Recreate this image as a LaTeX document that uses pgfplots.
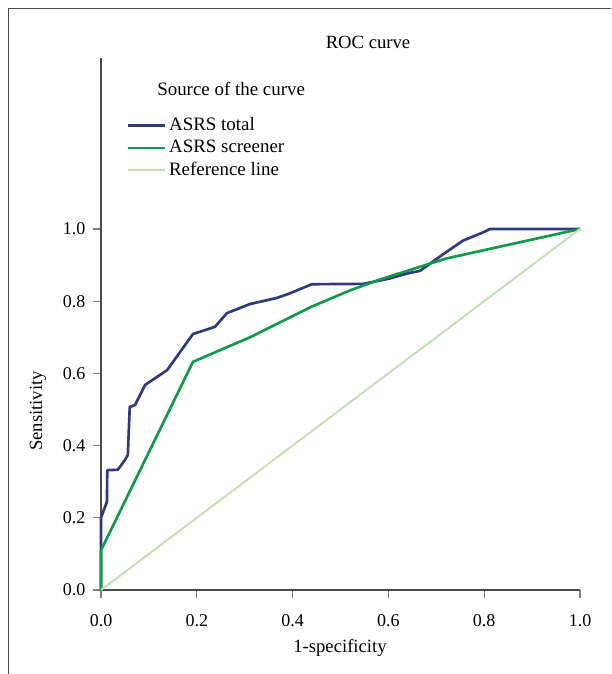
\documentclass[border=0pt]{standalone}
\usepackage{pgfplots}
\pgfplotsset{compat=1.18}
\usepackage{fontspec}
\setmainfont{Liberation Serif}
\definecolor{cblue}{HTML}{2C3A7E}
\definecolor{cgreen}{HTML}{0E9A48}
\definecolor{cref}{HTML}{C2DFAE}
\definecolor{axgray}{HTML}{4A4A4A}
\begin{document}
\fontsize{13.5}{16}\selectfont
\begin{tikzpicture}
\path[use as bounding box] (-75.75pt,-63pt) rectangle (382.5pt,442.5pt);
\begin{scope}[shift={(-75.75pt,442.5pt)}, x=0.75pt, y=-0.75pt]
  \draw[axgray, line width=1.2pt] (8.5,674) -- (8.5,8.5) -- (611,8.5);
  \node[font=\fontsize{14}{16}\selectfont] at (368,42) {ROC curve};
  \node[font=\fontsize{14.2}{16}\selectfont, anchor=west, inner sep=0pt] at (157,89) {Source of the curve};
  \node[font=\fontsize{14}{16}\selectfont] at (340,648) {1-specificity};
  \node[font=\fontsize{14}{16}\selectfont, rotate=90] at (38,411) {Sensitivity};
\end{scope}
\begin{axis}[
  at={(0,0)}, anchor=south west,
  scale only axis,
  width=359.25pt, height=399.1pt,
  xmin=0, xmax=1, ymin=0, ymax=1.474,
  axis x line*=bottom, axis y line*=left,
  axis line style={axgray, line width=0.9pt},
  xtick={0,0.2,0.4,0.6,0.8,1.0},
  ytick={0,0.2,0.4,0.6,0.8,1.0},
  tick align=outside,
  major tick length=6pt,
  tick style={gray, line width=1pt},
  /pgf/number format/assume math mode=true,
  /pgf/number format/.cd, fixed, fixed zerofill, precision=1, /pgfplots/.cd,
  ticklabel style={font=\fontsize{13.5}{16}\selectfont},
  xticklabel style={yshift=-8pt},
  yticklabel style={xshift=-1pt},
  clip=false,
  legend style={draw=none, fill=none, at={(axis cs:0.0525,1.316)}, anchor=north west,
    font=\fontsize{14.2}{16}\selectfont, row sep=1pt, inner sep=0pt},
  legend cell align=left,
  legend image code/.code={\draw[#1] (0pt,0pt) -- (28pt,0pt);},
]
\addplot[cblue, line width=2pt, line join=round] coordinates {
 (0,0) (0,0.2) (0.0125,0.245) (0.013,0.332) (0.035,0.333) (0.05,0.36) (0.056,0.374)
 (0.06,0.507) (0.071,0.512) (0.092,0.568) (0.138,0.609) (0.192,0.709) (0.238,0.729)
 (0.263,0.767) (0.311,0.792) (0.367,0.809) (0.395,0.822) (0.44,0.847) (0.547,0.848)
 (0.60,0.862) (0.64,0.877) (0.666,0.884) (0.712,0.928) (0.756,0.968) (0.795,0.989)
 (0.812,1.0) (1,1.0)
};
\addlegendentry{ASRS total}
\addplot[cgreen, line width=2pt, line join=round] coordinates {
 (0,0) (0,0.11) (0.192,0.632) (0.311,0.70) (0.44,0.785) (0.52,0.83) (0.58,0.859)
 (0.72,0.918) (1,1.0)
};
\addlegendentry{ASRS screener}
\addplot[cref, line width=1.4pt] coordinates {(0,0) (1,1)};
\addlegendentry{Reference line}
\end{axis}
\end{tikzpicture}
\end{document}
